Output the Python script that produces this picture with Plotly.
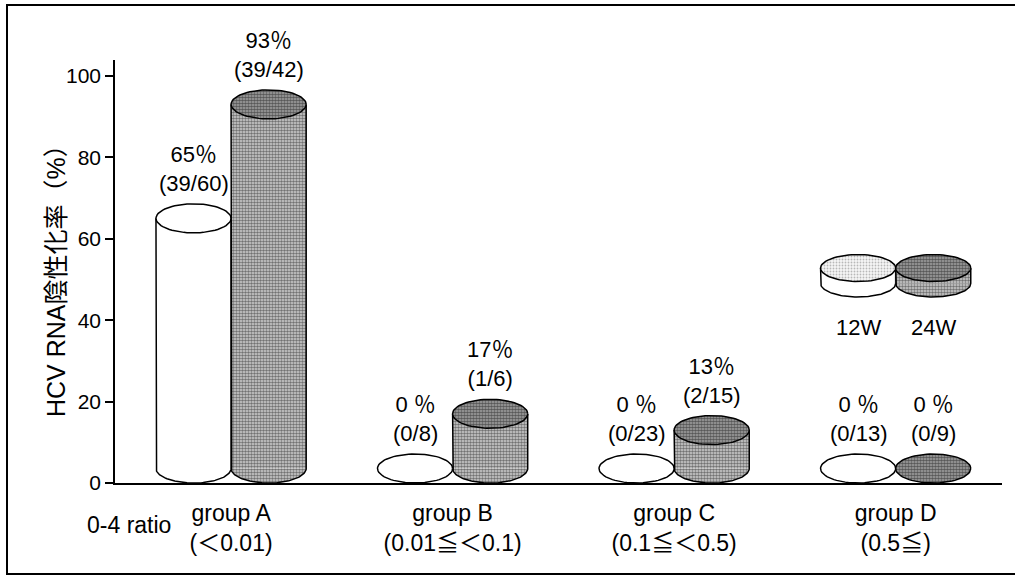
import numpy as np
import plotly.graph_objects as go

# ---- data -------------------------------------------------------------
groups = ["group A", "group B", "group C", "group D"]
ratio_ranges = ["(＜0.01)", "(0.01≦＜0.1)", "(0.1≦＜0.5)", "(0.5≦)"]
series_names = ["12W", "24W"]

pct_12w = [65, 0, 0, 0]
pct_24w = [93, 17, 13, 0]
neg_12w = [39, 0, 0, 0]
tot_12w = [60, 8, 23, 13]
neg_24w = [39, 1, 2, 0]
tot_24w = [42, 6, 15, 9]

y_ticks = [0, 20, 40, 60, 80, 100]

# ---- styling ----------------------------------------------------------
FONT = "Liberation Sans, Arial, Noto Sans CJK JP, sans-serif"
BW = 0.339          # cylinder width (category units)
RX = BW / 2         # cap half-width
RY = 3.56           # cap half-height (% units)
EDGE = dict(color="black", width=1.5)

SIDE_DARK = dict(shape=".", bgcolor="#d2d2d2", fgcolor="#111111", size=3, solidity=0.58)
TOP_DARK = dict(shape=".", bgcolor="#a8a8a8", fgcolor="#080808", size=3, solidity=0.62)
TOP_LIGHT = dict(shape=".", bgcolor="#f6f6f6", fgcolor="#7a7a7a", size=3, solidity=0.3)

# plot-area pixel frame used for placing free text
L, R, T, B = 115, 1002, 60, 483
W, H = 1015, 580


def px_x(px):
    return (px - L) / (R - L)


def px_y(py):
    return (B - py) / (B - T)


def arc(xc, yc, ry, t0, t1, n=73):
    t = np.linspace(t0, t1, n)
    return xc + RX * np.cos(t), yc + ry * np.sin(t)


def fill_trace(x, y, pattern, line=None):
    kw = dict(x=x, y=y, mode="lines", fill="toself", hoverinfo="skip",
              showlegend=False, line=line or dict(width=0, color="rgba(0,0,0,0)"))
    if pattern is None:
        kw["fillcolor"] = "white"
    else:
        kw["fillcolor"] = pattern["bgcolor"]
        kw["fillpattern"] = pattern
    return go.Scatter(**kw)


def add_caps(fig, xc, top, base, ry, side_pat, top_pat, body=False):
    """Bottom half-cap, optional body, silhouette and top cap of a cylinder."""
    if top > base:
        if body:
            fig.add_trace(fill_trace([xc - RX, xc + RX, xc + RX, xc - RX],
                                     [base, base, top, top], side_pat))
        bx, by = arc(xc, base, ry, np.pi, 2 * np.pi)
        fig.add_trace(fill_trace(bx, by, side_pat))
        sx = np.concatenate([[xc - RX], bx, [xc + RX]])
        sy = np.concatenate([[top], by, [top]])
        fig.add_trace(go.Scatter(x=sx, y=sy, mode="lines", line=EDGE,
                                 hoverinfo="skip", showlegend=False))
    tx, ty = arc(xc, top, ry, 0, 2 * np.pi)
    fig.add_trace(fill_trace(tx, ty, top_pat, line=EDGE))


fig = go.Figure()

xpos = np.arange(len(groups))
series = [
    (series_names[0], pct_12w, neg_12w, tot_12w, -BW, None, None),
    (series_names[1], pct_24w, neg_24w, tot_24w, 0.0, SIDE_DARK, TOP_DARK),
]

# cylinder bodies as bars running from the bottom cap centre up to the value
for name, pct, neg, tot, off, side_pat, top_pat in series:
    heights = [max(v - RY, 0) for v in pct]
    marker = dict(color="white" if side_pat is None else side_pat["bgcolor"],
                  line=dict(width=0))
    if side_pat is not None:
        marker["pattern"] = side_pat
    fig.add_trace(go.Bar(x=xpos, y=heights, base=[RY] * len(pct), width=BW,
                         offset=off, marker=marker, name=name,
                         hoverinfo="skip", showlegend=False))

# caps, outlines and value labels
annotations = []
for name, pct, neg, tot, off, side_pat, top_pat in series:
    for i, v in enumerate(pct):
        xc = xpos[i] + off + BW / 2
        top = max(v, RY)
        add_caps(fig, xc, top, RY, RY, side_pat, top_pat)
        pct_txt = f"{v}％" if v > 0 else f"{v} ％"
        annotations.append(dict(
            x=xc, y=top + RY, xref="x", yref="y", yanchor="bottom",
            text=f"{pct_txt}<br>({neg[i]}/{tot[i]})", showarrow=False,
            yshift=6, font=dict(family=FONT, size=22, color="black")))

# key: two short cylinders with their labels
key_base, key_top, key_ry, key_label_y = 49.0, 52.8, 3.3, 38.3
for k, (side_pat, top_pat) in enumerate([(None, TOP_LIGHT), (SIDE_DARK, TOP_DARK)]):
    xc = 3 - BW / 2 + k * BW
    add_caps(fig, xc, key_top, key_base, key_ry, side_pat, top_pat, body=True)
    annotations.append(dict(x=xc, y=key_label_y, xref="x", yref="y",
                            text=series_names[k], showarrow=False,
                            font=dict(family=FONT, size=22, color="black")))

# axis title and row caption
annotations.append(dict(x=px_x(40), y=px_y(275), xref="paper", yref="paper",
                        text="HCV RNA陰性化率（%）", textangle=-90, showarrow=False,
                        font=dict(family=FONT, size=25, color="black")))
annotations.append(dict(x=px_x(85), y=px_y(540), xref="paper", yref="paper",
                        text="0-4 ratio", showarrow=False,
                        font=dict(family=FONT, size=23, color="black")))

# outer frame (open on the right)
frame = dict(type="path", xref="paper", yref="paper",
             path=(f"M {px_x(1020)} {px_y(5)} L {px_x(7)} {px_y(5)} "
                   f"L {px_x(7)} {px_y(574)} L {px_x(1020)} {px_y(574)}"),
             line=dict(color="black", width=2))

fig.update_layout(
    width=W, height=H,
    margin=dict(l=L, r=W - R, t=T, b=H - B),
    paper_bgcolor="white", plot_bgcolor="white",
    barmode="overlay", showlegend=False,
    annotations=annotations, shapes=[frame],
    font=dict(family=FONT, color="black"),
    xaxis=dict(range=[-0.524, 3.48], tickvals=list(xpos),
               ticktext=[f"{g}<br>{r}" for g, r in zip(groups, ratio_ranges)],
               tickfont=dict(family=FONT, size=23, color="black"),
               showline=True, linecolor="black", linewidth=2, ticks="",
               ticklabelstandoff=8, showgrid=False, zeroline=False),
    yaxis=dict(range=[0, 103.9], tickvals=y_ticks,
               tickfont=dict(family=FONT, size=21, color="black"),
               showline=True, linecolor="black", linewidth=1.5,
               ticks="outside", ticklen=8, tickwidth=1.5, tickcolor="black",
               showgrid=False, zeroline=False),
)

fig.write_html("out.html")
